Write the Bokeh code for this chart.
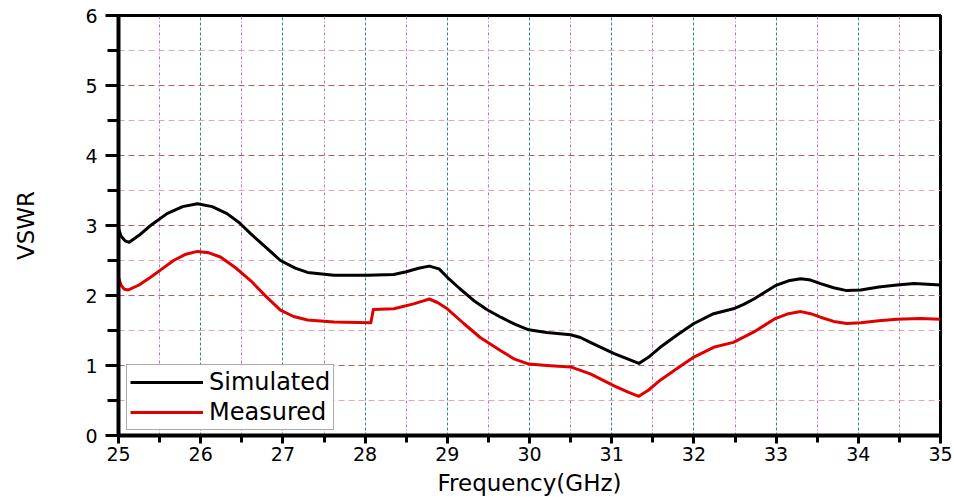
from bokeh.plotting import figure
from bokeh.models import Legend, LegendItem, FixedTicker, Range1d
from bokeh.embed import file_html
from bokeh.resources import INLINE

# Frequency (GHz) and VSWR values
sim_freq = [25.0, 25.03, 25.08, 25.13, 25.25, 25.39, 25.59, 25.78, 25.96, 26.14, 26.32,
            26.47, 26.61, 26.80, 26.97, 27.15, 27.30, 27.62, 28.03, 28.35, 28.50, 28.65,
            28.78, 28.90, 29.0, 29.15, 29.32, 29.48, 29.65, 29.82, 29.99, 30.21, 30.50,
            30.62, 30.74, 31.03, 31.20, 31.33, 31.45, 31.59, 31.80, 32.0, 32.24, 32.48,
            32.60, 32.73, 32.99, 33.15, 33.30, 33.42, 33.54, 33.70, 33.86, 34.03, 34.25,
            34.47, 34.68, 35.0]
sim_vswr = [2.96, 2.85, 2.78, 2.76, 2.86, 3.00, 3.17, 3.27, 3.31, 3.27, 3.17,
            3.04, 2.88, 2.68, 2.50, 2.39, 2.33, 2.29, 2.29, 2.30, 2.34, 2.39,
            2.42, 2.38, 2.26, 2.10, 1.93, 1.80, 1.69, 1.59, 1.51, 1.47, 1.44,
            1.40, 1.33, 1.17, 1.09, 1.03, 1.12, 1.26, 1.44, 1.60, 1.74, 1.81,
            1.87, 1.95, 2.14, 2.21, 2.24, 2.22, 2.17, 2.11, 2.07, 2.08, 2.12,
            2.15, 2.17, 2.15]

meas_freq = [25.0, 25.03, 25.07, 25.12, 25.25, 25.39, 25.53, 25.67, 25.82, 25.96, 26.10,
             26.24, 26.42, 26.61, 26.80, 26.97, 27.13, 27.30, 27.62, 28.06, 28.07, 28.10,
             28.35, 28.59, 28.70, 28.78, 28.88, 29.0, 29.20, 29.40, 29.65, 29.82, 29.99,
             30.21, 30.50, 30.74, 31.03, 31.20, 31.33, 31.45, 31.59, 31.80, 32.0, 32.24,
             32.48, 32.73, 32.99, 33.15, 33.30, 33.42, 33.54, 33.70, 33.86, 34.03, 34.25,
             34.47, 34.75, 35.0]
meas_vswr = [2.26, 2.15, 2.09, 2.08, 2.15, 2.26, 2.38, 2.50, 2.59, 2.63, 2.61,
             2.55, 2.40, 2.21, 1.98, 1.79, 1.70, 1.65, 1.62, 1.61, 1.61, 1.80,
             1.81, 1.88, 1.92, 1.95, 1.90, 1.81, 1.60, 1.40, 1.21, 1.09, 1.02,
             1.00, 0.98, 0.88, 0.71, 0.62, 0.56, 0.65, 0.79, 0.96, 1.12, 1.26,
             1.33, 1.48, 1.67, 1.74, 1.77, 1.74, 1.69, 1.63, 1.60, 1.61, 1.64,
             1.66, 1.67, 1.66]

x_ticks = [25, 26, 27, 28, 29, 30, 31, 32, 33, 34, 35]
x_minor = [25.5, 26.5, 27.5, 28.5, 29.5, 30.5, 31.5, 32.5, 33.5, 34.5]
y_ticks = [0, 1, 2, 3, 4, 5, 6]
y_minor = [0.5, 1.5, 2.5, 3.5, 4.5, 5.5]

FONT = "DejaVu Sans"

p = figure(frame_width=822, frame_height=420, output_backend="svg", toolbar_location=None,
           x_range=Range1d(25, 35), y_range=Range1d(0, 6),
           min_border_right=14, min_border_top=15, title_location=None)
p.margin = (0, 0, 0, 10)

p.background_fill_color = "white"
p.border_fill_color = "white"
p.outline_line_color = "black"
p.outline_line_width = 3
p.outline_line_alpha = 1

# axes: tick marks drawn as minor ticks at every integer and half step
p.xaxis.ticker = FixedTicker(ticks=x_ticks, minor_ticks=sorted(x_ticks + x_minor))
p.yaxis.ticker = FixedTicker(ticks=y_ticks, minor_ticks=sorted(y_ticks + y_minor))

for ax in (p.xaxis[0], p.yaxis[0]):
    ax.axis_line_width = 4
    ax.axis_line_color = "black"
    ax.major_tick_line_color = "black"
    ax.minor_tick_line_color = "black"
    ax.major_tick_line_width = 3
    ax.minor_tick_line_width = 3
    ax.major_tick_in = 0
    ax.minor_tick_in = 0
    ax.major_label_text_font = FONT
    ax.major_label_text_font_size = "19px"
    ax.major_label_text_color = "black"
    ax.axis_label_text_font = FONT
    ax.axis_label_text_font_style = "normal"
    ax.axis_label_text_font_size = "23px"
    ax.axis_label_text_color = "black"

p.yaxis.major_tick_out = 13
p.yaxis.minor_tick_out = 11
p.yaxis.major_label_standoff = 8
p.yaxis.axis_label = "VSWR"
p.yaxis.axis_label_standoff = 43

p.xaxis.major_tick_out = 8
p.xaxis.minor_tick_out = 7
p.xaxis.major_label_standoff = 3
p.xaxis.axis_label = "Frequency(GHz)"
p.xaxis.axis_label_standoff = 6

# grids (own tickers so minor grid lines only sit at half steps)
p.xgrid.ticker = FixedTicker(ticks=x_ticks, minor_ticks=x_minor)
p.ygrid.ticker = FixedTicker(ticks=y_ticks, minor_ticks=y_minor)

p.xgrid.grid_line_color = "#2f8787"
p.xgrid.grid_line_dash = "3 2"
p.xgrid.grid_line_width = 1
p.xgrid.minor_grid_line_color = "#c070b8"
p.xgrid.minor_grid_line_dash = "3 2 1 2"
p.xgrid.minor_grid_line_width = 1

p.ygrid.grid_line_color = "#b06060"
p.ygrid.grid_line_dash = "6 4"
p.ygrid.grid_line_width = 1
p.ygrid.minor_grid_line_color = "#e0a8b8"
p.ygrid.minor_grid_line_dash = "6 4"
p.ygrid.minor_grid_line_width = 1

r_sim = p.line(sim_freq, sim_vswr, line_color="black", line_width=3, line_join="round")
r_meas = p.line(meas_freq, meas_vswr, line_color="#e00000", line_width=3, line_join="round")

legend = Legend(items=[LegendItem(label="Simulated", renderers=[r_sim]),
                       LegendItem(label="Measured", renderers=[r_meas])],
                location=(8, 5))
legend.label_text_font = FONT
legend.label_text_font_size = "24px"
legend.label_text_color = "black"
legend.glyph_width = 73
legend.glyph_height = 20
legend.label_height = 20
legend.label_standoff = 6
legend.padding = 3
legend.spacing = 2
legend.margin = 0
legend.border_line_color = "#555555"
legend.border_line_width = 1
legend.background_fill_color = "white"
legend.background_fill_alpha = 1
p.add_layout(legend, "center")

open("out.html", "w").write(file_html(p, INLINE))
